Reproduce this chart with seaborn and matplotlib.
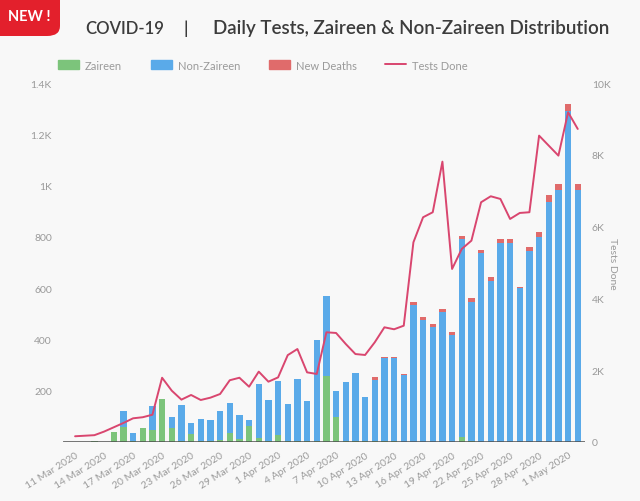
import numpy as np
import pandas as pd
import seaborn as sns
import matplotlib.pyplot as plt
from matplotlib.patches import Patch, FancyBboxPatch
from matplotlib.lines import Line2D

###############################################################################
# Data
###############################################################################
dates = [d.strftime('%-d %b %Y') for d in pd.date_range('2020-03-11', '2020-05-02')]

zaireen = [0, 0, 2, 0, 38, 60, 5, 55, 47, 166,
           55, 3, 33, 3, 2, 8, 37, 13, 64, 14,
           2, 28, 2, 2, 2, 3, 257, 98, 2, 3,
           2, 2, 2, 2, 0, 0, 0, 0, 0, 0,
           20, 2, 0, 0, 0, 0, 0, 0, 0, 0,
           0, 0, 0]
non_zaireen = [0, 0, 2, 0, 0, 62, 30, 0, 93, 0,
               43, 141, 41, 87, 85, 112, 117, 91, 22, 212,
               162, 211, 146, 244, 158, 395, 313, 101, 232, 265,
               172, 241, 326, 326, 260, 533, 477, 449, 506, 417,
               772, 545, 736, 629, 776, 776, 600, 746, 798, 937,
               984, 1292, 984]
new_deaths = [0, 0, 0, 0, 0, 0, 0, 0, 0, 0,
              0, 0, 0, 0, 0, 0, 0, 0, 0, 0,
              0, 0, 0, 0, 0, 0, 0, 0, 0, 0,
              0, 10, 3, 3, 6, 14, 12, 11, 13, 13,
              13, 13, 13, 13, 14, 14, 6, 15, 20, 28,
              22, 28, 22]
tests_done = [160, 175, 190, 290, 410, 530, 660, 690, 760, 1790,
              1430, 1180, 1310, 1170, 1235, 1337, 1720, 1790, 1540, 1960,
              1680, 1800, 2420, 2590, 1940, 1895, 3056, 3037, 2730, 2450,
              2424, 2777, 3195, 3140, 3240, 5563, 6260, 6400, 7810, 4820,
              5377, 5609, 6678, 6845, 6770, 6213, 6380, 6400, 8534, 8255,
              7977, 9185, 8720]

left_ticks = [200, 400, 600, 800, 1000, 1200, 1400]
left_labels = ['200', '400', '600', '800', '1K', '1.2K', '1.4K']
right_ticks = [0, 2000, 4000, 6000, 8000, 10000]
right_labels = ['0', '2K', '4K', '6K', '8K', '10K']

###############################################################################
# Style
###############################################################################
sns.set_theme(style='white')
plt.rcParams['font.family'] = ['Lato', 'DejaVu Sans']

BG = '#f8f8f8'
GREEN = '#7cc47b'
BLUE = '#5aaae9'
RED = '#e06b6b'
LINE = '#d9466f'
TICK = '#9a9a9a'
TITLE = '#3c3c3c'
W, H = 640, 502

df = pd.DataFrame({'day': np.arange(len(dates)), 'zaireen': zaireen,
                   'non_zaireen': non_zaireen, 'deaths': new_deaths,
                   'tests': tests_done})
df['base_deaths'] = df['zaireen'] + df['non_zaireen']

fig = plt.figure(figsize=(W / 100, H / 100), dpi=100, facecolor=BG)
ax = fig.add_axes([63 / W, 1 - 443 / H, (585 - 63) / W, (443 - 84) / H])
ax.set_facecolor(BG)

bar_kws = dict(x='day', width=0.64, saturation=1, errorbar=None,
               linewidth=0, ax=ax)
sns.barplot(data=df, y='zaireen', color=GREEN, **bar_kws)
sns.barplot(data=df, y='non_zaireen', color=BLUE,
            bottom=df['zaireen'].to_numpy(), **bar_kws)
sns.barplot(data=df, y='deaths', color=RED,
            bottom=df['base_deaths'].to_numpy(), **bar_kws)

ax.axhline(0, color='#4d4d4d', linewidth=1.8, zorder=5)

ax2 = ax.twinx()
sns.lineplot(data=df, x='day', y='tests', color=LINE, linewidth=1.4, ax=ax2)

ax.set_xlim(-1.25, 52.75)
ax.set_ylim(0, 1400)
ax2.set_ylim(0, 10000)

ax.set_yticks(left_ticks)
ax.set_yticklabels(left_labels)
ax.set_xticks(df['day'][::3])
ax.set_xticklabels(dates[::3], rotation=32, ha='right', rotation_mode='anchor')
ax.tick_params(axis='y', length=0, labelsize=7.5, colors=TICK, pad=8)
ax.tick_params(axis='x', length=0, labelsize=7.5, colors=TICK, pad=6)
ax2.set_yticks(right_ticks)
ax2.set_yticklabels(right_labels)
ax2.tick_params(axis='y', length=0, labelsize=7.5, colors=TICK, pad=5)
ax.set_xlabel('')
ax.set_ylabel('')
ax2.set_xlabel('')
ax2.set_ylabel('Tests Done', rotation=270, fontsize=7.5, color=TICK)
ax2.yaxis.set_label_coords((613 - 63) / (585 - 63), 0.5)
ax2.yaxis.label.set_va('center')
for a in (ax, ax2):
    for s in a.spines.values():
        s.set_visible(False)

###############################################################################
# Legend, title, badge
###############################################################################
handles = [Patch(color=GREEN), Patch(color=BLUE), Patch(color=RED),
           Line2D([0], [0], color=LINE, linewidth=1.4)]
fig.legend(handles, ['Zaireen', 'Non-Zaireen', 'New Deaths', 'Tests Done'],
           loc='center', bbox_to_anchor=(263 / W, 1 - 66 / H), ncol=4,
           frameon=False, fontsize=8, labelcolor=TICK, handlelength=1.9,
           handleheight=0.8, handletextpad=0.5, columnspacing=2.6)

fig.text(85 / W, 1 - 29 / H, 'COVID-19', fontsize=12, color=TITLE,
         va='center', ha='left', weight='semibold')
fig.text(186 / W, 1 - 29 / H, '|', fontsize=13, color=TITLE,
         va='center', ha='center', weight='semibold')
fig.text(213 / W, 1 - 29 / H, 'Daily Tests, Zaireen & Non-Zaireen Distribution',
         fontsize=13.5, color=TITLE, va='center', ha='left', weight='semibold')

badge = FancyBboxPatch((-20 / W, 1 - 37 / H), 80 / W, 60 / H,
                       boxstyle='round,pad=0,rounding_size=0.02',
                       transform=fig.transFigure, facecolor='#e3202c',
                       edgecolor='none', clip_on=False)
fig.patches.append(badge)
fig.text(29 / W, 1 - 17 / H, 'NEW !', fontsize=10.5, color='white',
         weight='bold', ha='center', va='center')

fig.savefig('out.png', dpi=100, facecolor=BG)
